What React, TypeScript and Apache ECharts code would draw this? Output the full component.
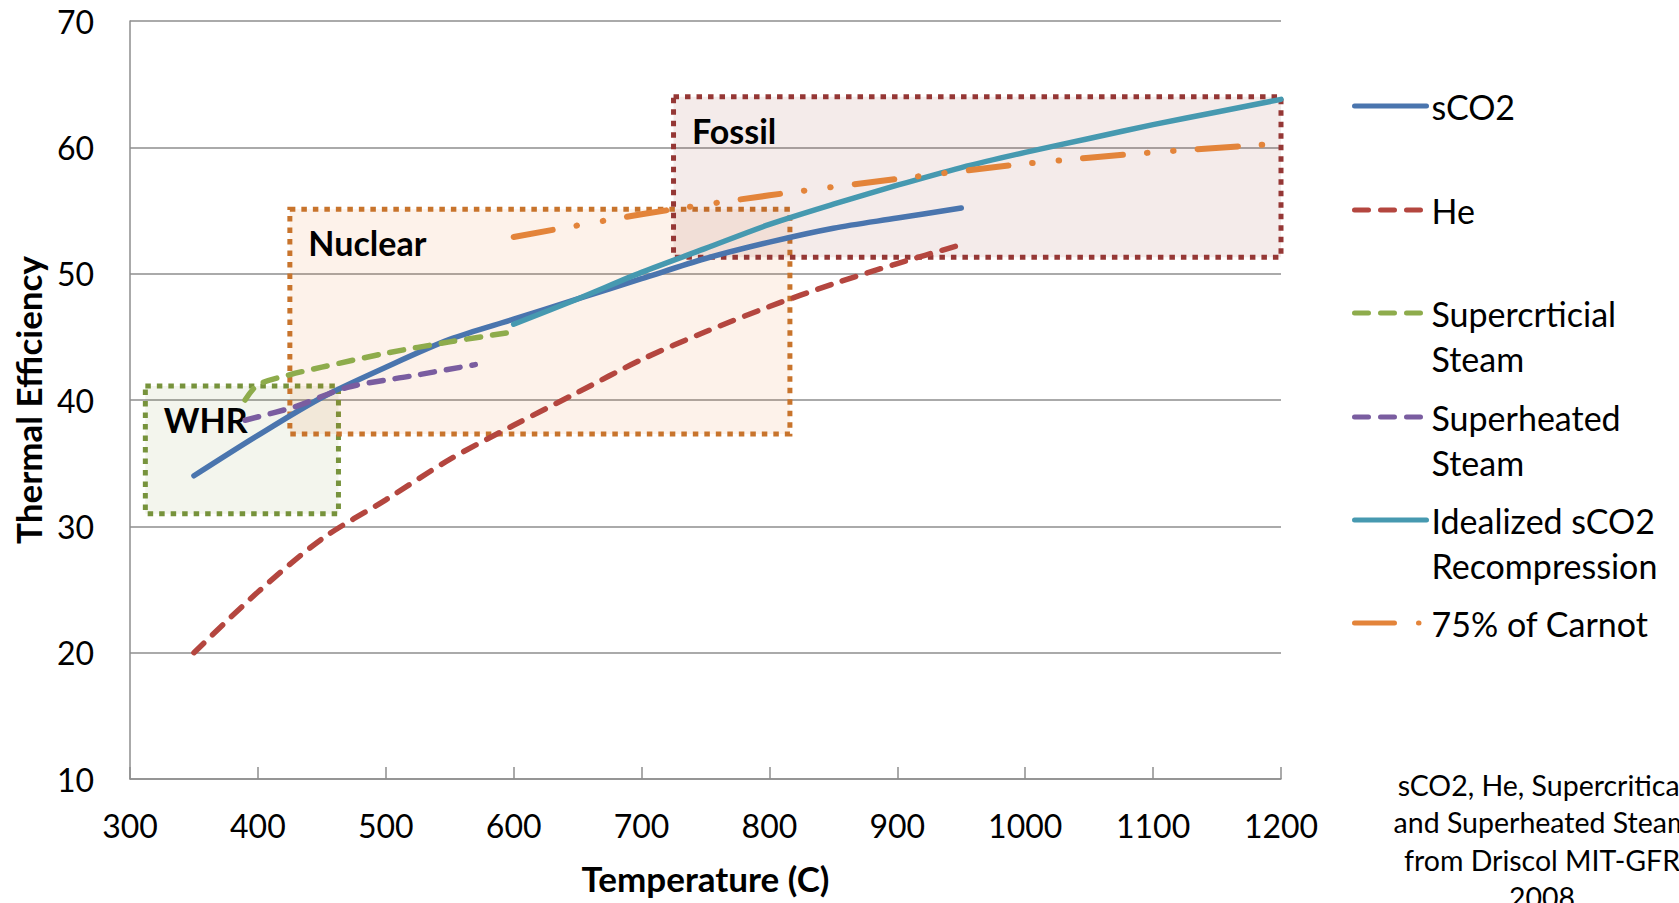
import React, { useEffect, useRef } from "react";
import * as echarts from "echarts";

// ---- Data ----
const seriesNames = [
  "sCO2",
  "He",
  "Supercrticial Steam",
  "Superheated Steam",
  "Idealized sCO2 Recompression",
  "75% of Carnot",
];
// a leading empty line keeps the legend icon level with the first text line
const legendLabels = [
  "sCO2",
  "He",
  "\nSupercrticial\nSteam",
  "\nSuperheated\nSteam",
  "\nIdealized sCO2\nRecompression",
  "75% of Carnot",
];

const sco2X = [350, 400, 450, 500, 550, 600, 650, 700, 750, 800, 850, 900, 950];
const sco2Y = [34.0, 37.2, 40.2, 42.6, 44.8, 46.4, 48.0, 49.6, 51.2, 52.5, 53.6, 54.4, 55.2];

const heX = [350, 400, 450, 500, 550, 600, 650, 700, 750, 800, 850, 900, 950];
const heY = [20.0, 24.8, 29.0, 32.1, 35.3, 38.0, 40.6, 43.2, 45.4, 47.4, 49.2, 50.8, 52.3];

const scSteamX = [390, 400, 425, 450, 500, 550, 600];
const scSteamY = [40.0, 41.2, 42.0, 42.6, 43.7, 44.6, 45.4];

const shSteamX = [390, 430, 470, 520, 570];
const shSteamY = [38.4, 39.5, 41.0, 41.9, 42.8];

const idealX = [600, 650, 700, 750, 800, 850, 900, 950, 1000, 1050, 1100, 1150, 1200];
const idealY = [46.0, 48.0, 50.1, 52.0, 53.9, 55.5, 57.0, 58.4, 59.6, 60.7, 61.8, 62.8, 63.8];

const carnotX = [600, 700, 800, 900, 1000, 1100, 1200];
const carnotY = [52.9, 54.7, 56.2, 57.5, 58.7, 59.6, 60.3];

// regions
const regionNames = ["WHR", "Nuclear", "Fossil"];
const regionX = [
  [312, 463],
  [425, 816],
  [725, 1201],
];
const regionY = [
  [31.0, 41.1],
  [37.3, 55.1],
  [51.3, 64.0],
];

const xTicks = { min: 300, max: 1200, interval: 100 };
const yTicks = { min: 10, max: 70, interval: 10 };

const noteText = "sCO2, He, Supercritical\nand Superheated Steam\nfrom Driscol MIT-GFR\n2008";

const zip = (xs: number[], ys: number[]) => xs.map((x, i) => [x, ys[i]]);

const colors = ["#4A75AE", "#B4463F", "#8EAC4C", "#7A5DA0", "#4699B0", "#E3843A"];
const regionBorder = ["#77933C", "#C8742C", "#953735"];
const regionFill = [
  "rgba(119,147,60,0.09)",
  "rgba(228,108,10,0.085)",
  "rgba(149,55,53,0.10)",
];

export default function App() {
  const ref = useRef<HTMLDivElement>(null);

  useEffect(() => {
    if (!ref.current) return;
    const chart = echarts.init(ref.current, undefined, { renderer: "svg" });
    const font = "Lato";

    const dashed = [14, 12];
    const carnotDash = [40, 24, 0.5, 26, 0.5, 24];
    const lineTypes: any[] = ["solid", dashed, dashed, dashed, "solid", carnotDash];
    const lineData = [
      zip(sco2X, sco2Y),
      zip(heX, heY),
      zip(scSteamX, scSteamY),
      zip(shSteamX, shSteamY),
      zip(idealX, idealY),
      zip(carnotX, carnotY),
    ];
    const widths = [5.5, 5.5, 5.5, 5.5, 5.5, 6];

    const lineSeries = lineData.map((d, i) => ({
      name: seriesNames[i],
      type: "line",
      data: d,
      smooth: 0.3,
      symbol: "none",
      z: 3,
      lineStyle: {
        color: colors[i],
        width: widths[i],
        type: lineTypes[i],
        cap: "round",
        join: "round",
      },
      itemStyle: { color: colors[i] },
    }));

    const areaSeries = {
      name: "regions",
      type: "line",
      data: [],
      clip: false,
      silent: true,
      z: 1,
      markArea: {
        silent: true,
        data: regionNames.map((n, i) => [
          {
            name: n,
            xAxis: regionX[i][0],
            yAxis: regionY[i][1],
            itemStyle: {
              color: regionFill[i],
              borderColor: regionBorder[i],
              borderWidth: 5,
              borderType: [5.5, 6],
            },
            label: {
              show: true,
              position: [21, 19],
              formatter: "{b}",
              color: "#000",
              fontFamily: font,
              fontWeight: "bold",
              fontSize: 34,
              lineHeight: 34,
            },
          },
          { xAxis: regionX[i][1], yAxis: regionY[i][0] },
        ]),
      },
    };

    const centers = [106, 210, 313, 417, 520, 623];
    const legends = seriesNames.map((name, i) => {
      const two = legendLabels[i].includes("\n");
      return {
        data: [name],
        orient: "vertical",
        left: 1352,
        top: two ? centers[i] - 67.5 : centers[i] - 22.5,
        padding: 0,
        itemWidth: 72,
        itemHeight: 14,
        itemGap: 0,
        formatter: () => legendLabels[i],
        itemStyle: { opacity: 0, borderWidth: 0 },
        lineStyle: { width: 5, cap: "round" },
        textStyle: {
          fontFamily: font,
          fontSize: 34,
          lineHeight: 45,
          color: "#000",
        },
      };
    });

    chart.setOption({
      animation: false,
      backgroundColor: "#fff",
      grid: { left: 130, top: 21, width: 1151, height: 758 },
      legend: legends,
      xAxis: {
        type: "value",
        min: xTicks.min,
        max: xTicks.max,
        interval: xTicks.interval,
        name: "Temperature (C)",
        nameLocation: "middle",
        nameGap: 81,
        nameTextStyle: { fontFamily: font, fontWeight: "bold", fontSize: 35, color: "#000" },
        axisLine: { show: true, lineStyle: { color: "#8E8E8E", width: 1.5 } },
        axisTick: { show: true, inside: true, length: 12, lineStyle: { color: "#8E8E8E", width: 1.5 } },
        axisLabel: {
          fontFamily: font,
          fontSize: 32,
          color: "#000",
          margin: 30,
          formatter: (v: number) => String(v),
        },
        splitLine: { show: false },
      },
      yAxis: {
        type: "value",
        min: yTicks.min,
        max: yTicks.max,
        interval: yTicks.interval,
        name: "Thermal Efficiency",
        nameLocation: "middle",
        nameGap: 85,
        nameTextStyle: { fontFamily: font, fontWeight: "bold", fontSize: 35, color: "#000" },
        axisLine: { show: true, lineStyle: { color: "#8E8E8E", width: 1.5 } },
        axisTick: { show: false },
        axisLabel: { fontFamily: font, fontSize: 32, color: "#000", margin: 36 },
        splitLine: { show: true, lineStyle: { color: "#8E8E8E", width: 1.5 } },
      },
      graphic: [
        {
          type: "text",
          x: 1542,
          y: 766,
          style: {
            text: noteText,
            align: "center",
            verticalAlign: "top",
            fontFamily: font,
            fontSize: 28.5,
            lineHeight: 37.5,
            fill: "#000",
          },
        },
      ],
      series: [areaSeries, ...lineSeries],
    } as any);

    return () => chart.dispose();
  }, []);

  return (
    <div
      ref={ref}
      style={{ position: "absolute", left: 0, top: 0, width: 1679, height: 903 }}
    />
  );
}
